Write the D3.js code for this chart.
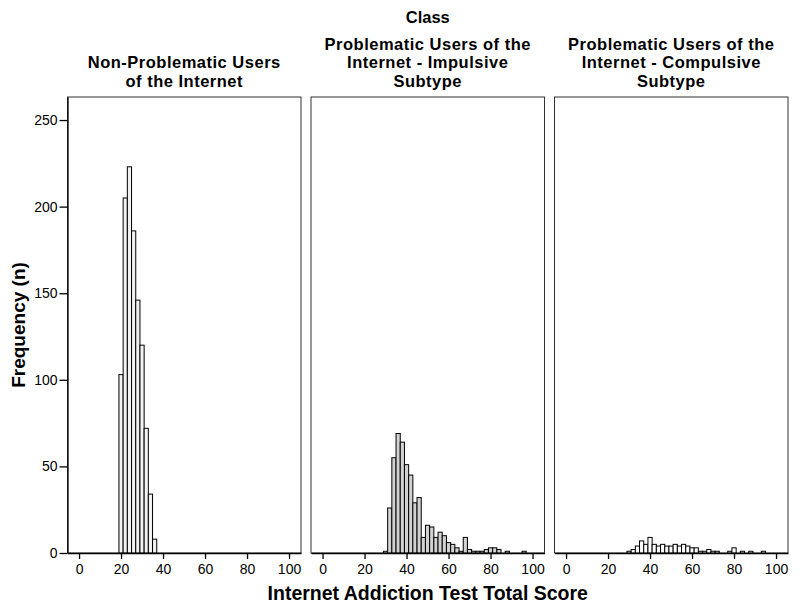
<!DOCTYPE html>
<html>
<head>
<meta charset="utf-8">
<script src="https://cdn.jsdelivr.net/npm/d3@7"></script>
<style>
  html, body { margin: 0; padding: 0; background: #fff; }
  svg text { font-family: "Liberation Sans", Arial, sans-serif; fill: #000; }
</style>
</head>
<body>
<svg id="chart" width="800" height="610"></svg>
<script>
// ---- Data ----
const facetHeader = "Class";
const panelTitles = [
  ["Non-Problematic Users", "of the Internet"],
  ["Problematic Users of the", "Internet - Impulsive", "Subtype"],
  ["Problematic Users of the", "Internet - Compulsive", "Subtype"]
];
// bin centres (bin width 2) and counts
const nonProbScores = [20, 22, 24, 26, 28, 30, 32, 34, 36];
const nonProbCounts = [103, 205, 223, 186, 146, 120, 72, 34, 8];

const impulsiveScores = [30, 32, 34, 36, 38, 40, 42, 44, 46, 48, 50, 52, 54, 56, 58, 60, 62, 64, 66, 68, 70, 72, 74, 76, 78, 80, 82, 84, 86, 88, 90, 92, 94, 96];
const impulsiveCounts = [1, 26, 55, 69, 64, 51, 45, 29, 32, 9, 16, 15, 9, 12, 10, 6, 5, 3, 1, 9, 2, 1, 1, 1, 2, 3, 3, 2, 0, 1, 0, 0, 0, 1];

const compulsiveScores = [30, 32, 34, 36, 38, 40, 42, 44, 46, 48, 50, 52, 54, 56, 58, 60, 62, 64, 66, 68, 70, 72, 74, 76, 78, 80, 82, 84, 86, 88, 90, 92, 94];
const compulsiveCounts = [1, 2, 4, 7, 5, 9, 5, 4, 5, 4, 4, 5, 4, 5, 4, 3, 3, 1, 1, 2, 1, 1, 0, 0, 1, 3, 0, 1, 0, 1, 0, 0, 1];

const binWidth = 2;
const xTicks = [0, 20, 40, 60, 80, 100];
const yTicks = [0, 50, 100, 150, 200, 250];
const xTitle = "Internet Addiction Test Total Score";
const yTitle = "Frequency (n)";

// ---- Layout ----
const svg = d3.select("#chart");
const plotTop = 97, plotBottom = 553;
const panelW = 233.5, panelStep = 243.5, firstLeft = 67.5;
const y = d3.scaleLinear().domain([0, 263.3]).range([plotBottom, plotTop]);

const series = [
  { scores: nonProbScores, counts: nonProbCounts, fill: "#f2f2f2" },
  { scores: impulsiveScores, counts: impulsiveCounts, fill: "#d2d2d2" },
  { scores: compulsiveScores, counts: compulsiveCounts, fill: "#ffffff" }
];

// facet header
svg.append("text")
  .attr("x", firstLeft + panelStep + panelW / 2)
  .attr("y", 23)
  .attr("text-anchor", "middle")
  .attr("font-size", 16.5)
  .attr("font-weight", "bold")
  .text(facetHeader);

series.forEach((s, i) => {
  const left = firstLeft + i * panelStep;
  const x = d3.scaleLinear().domain([-5.5, 105.7]).range([left, left + panelW]);
  const g = svg.append("g");

  // panel frame
  g.append("rect")
    .attr("x", left).attr("y", plotTop)
    .attr("width", panelW).attr("height", plotBottom - plotTop)
    .attr("fill", "none").attr("stroke", "#333").attr("stroke-width", 1);

  // bars
  const data = s.scores.map((sc, k) => ({ score: sc, count: s.counts[k] })).filter(d => d.count > 0);
  g.selectAll("rect.bar").data(data).enter().append("rect")
    .attr("class", "bar")
    .attr("x", d => x(d.score - binWidth / 2))
    .attr("width", d => x(d.score + binWidth / 2) - x(d.score - binWidth / 2))
    .attr("y", d => y(d.count))
    .attr("height", d => y(0) - y(d.count))
    .attr("fill", s.fill)
    .attr("stroke", "#000")
    .attr("stroke-width", 1);

  // x axis
  const xAxis = d3.axisBottom(x).tickValues(xTicks).tickSize(6).tickSizeOuter(0).tickPadding(5);
  const ax = g.append("g").attr("transform", `translate(0,${plotBottom})`).call(xAxis);
  ax.select(".domain").attr("stroke", "#000").attr("stroke-width", 1.3);
  ax.selectAll(".tick line").attr("stroke", "#000").attr("stroke-width", 1.3);
  ax.selectAll(".tick text").attr("font-size", 14).style("font-family", '"Liberation Sans", Arial, sans-serif');

  // panel titles
  const lines = panelTitles[i];
  const nLines = lines.length;
  lines.forEach((ln, k) => {
    g.append("text")
      .attr("x", left + panelW / 2)
      .attr("y", 87 - (nLines - 1 - k) * 18.6)
      .attr("text-anchor", "middle")
      .attr("font-size", 16.5)
      .attr("letter-spacing", 0.5)
      .attr("font-weight", "bold")
      .text(ln);
  });

  if (i === 0) {
    const yAxis = d3.axisLeft(y).tickValues(yTicks).tickSize(8).tickSizeOuter(0).tickPadding(2);
    const ay = g.append("g").attr("transform", `translate(${left},0)`).call(yAxis);
    ay.select(".domain").attr("stroke", "#000").attr("stroke-width", 1.3);
    ay.selectAll(".tick line").attr("stroke", "#000").attr("stroke-width", 1.3);
    ay.selectAll(".tick text").attr("font-size", 14).style("font-family", '"Liberation Sans", Arial, sans-serif');
  }
});

// axis titles
svg.append("text")
  .attr("x", firstLeft + panelStep + panelW / 2)
  .attr("y", 600)
  .attr("text-anchor", "middle")
  .attr("font-size", 19.5)
  .attr("font-weight", "bold")
  .text(xTitle);

svg.append("text")
  .attr("transform", `translate(25,${(plotTop + plotBottom) / 2}) rotate(-90)`)
  .attr("text-anchor", "middle")
  .attr("font-size", 19)
  .attr("font-weight", "bold")
  .text(yTitle);
</script>
</body>
</html>
